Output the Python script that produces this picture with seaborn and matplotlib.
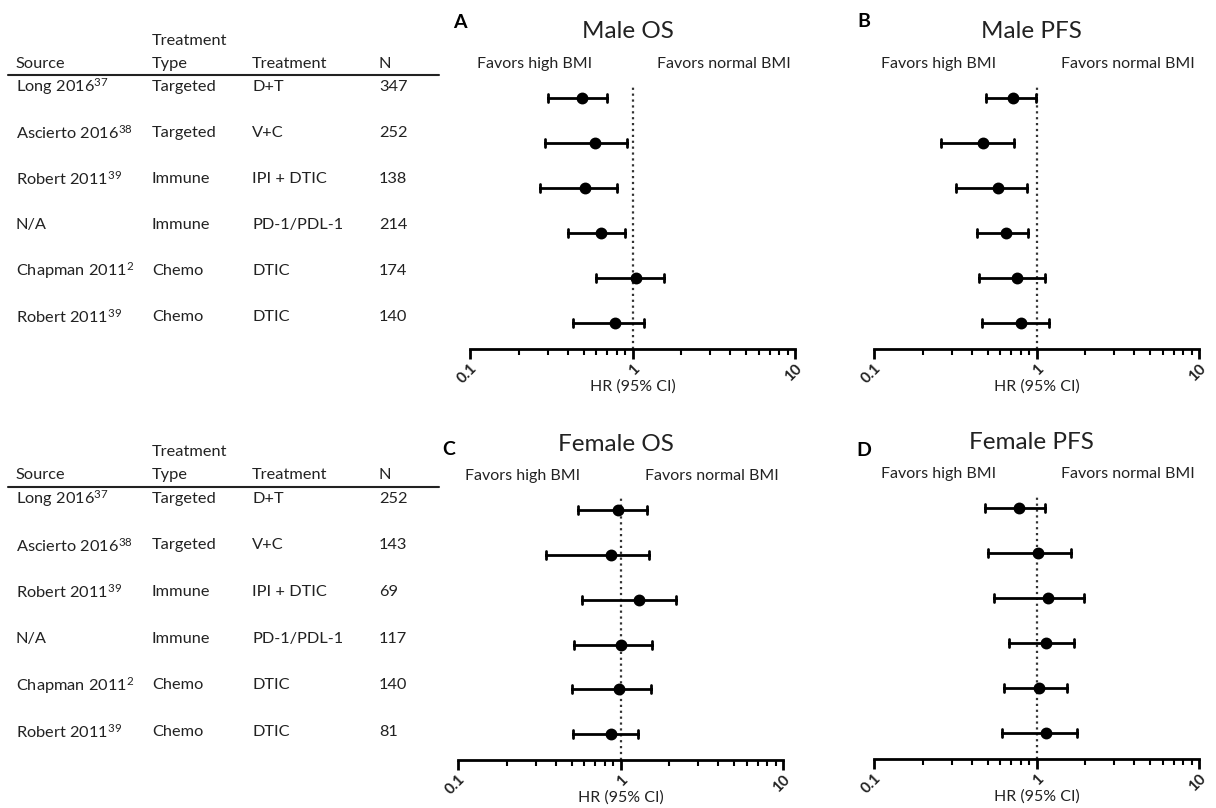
import matplotlib
matplotlib.use("Agg")
import matplotlib.pyplot as plt
import matplotlib.ticker as mticker
import numpy as np
import pandas as pd
import seaborn as sns

sns.set_theme(style="ticks")
plt.rcParams["font.family"] = ["Lato", "DejaVu Sans"]
plt.rcParams["mathtext.default"] = "regular"

# table columns
sources = ["Long 2016", "Ascierto 2016", "Robert 2011", "N/A", "Chapman 2011", "Robert 2011"]
refs = ["37", "38", "39", "", "2", "39"]
treat_types = ["Targeted", "Targeted", "Immune", "Immune", "Chemo", "Chemo"]
treatments = ["D+T", "V+C", "IPI + DTIC", "PD-1/PDL-1", "DTIC", "DTIC"]
n_male = [347, 252, 138, 214, 174, 140]
n_female = [252, 143, 69, 117, 140, 81]

# hazard ratios with 95% CI, one value per study row (top to bottom)
male_os_hr = [0.49, 0.585, 0.51, 0.64, 1.05, 0.78]
male_os_lo = [0.30, 0.29, 0.27, 0.40, 0.60, 0.43]
male_os_hi = [0.70, 0.93, 0.80, 0.90, 1.56, 1.18]

male_pfs_hr = [0.72, 0.47, 0.58, 0.65, 0.755, 0.80]
male_pfs_lo = [0.49, 0.26, 0.32, 0.43, 0.44, 0.46]
male_pfs_hi = [0.99, 0.73, 0.88, 0.89, 1.12, 1.20]

female_os_hr = [0.97, 0.87, 1.30, 1.00, 0.98, 0.87]
female_os_lo = [0.55, 0.35, 0.58, 0.52, 0.50, 0.51]
female_os_hi = [1.46, 1.50, 2.20, 1.56, 1.55, 1.29]

female_pfs_hr = [0.78, 1.02, 1.17, 1.14, 1.04, 1.15]
female_pfs_lo = [0.48, 0.50, 0.55, 0.68, 0.63, 0.61]
female_pfs_hi = [1.13, 1.64, 1.95, 1.70, 1.54, 1.78]

TXT = "#222222"


def long_frame(lo, hr, hi):
    rows = []
    for i in range(len(hr)):
        for v in (lo[i], hr[i], hi[i]):
            rows.append({"row": i, "value": v})
    return pd.DataFrame(rows)


def draw_table(fig, rect, n_values):
    ax = fig.add_axes(rect)
    ax.set_xlim(0, 1)
    ax.set_ylim(5.5, -1.24)
    ax.axis("off")
    cols = [0.036, 0.345, 0.573, 0.861]
    fs = 11.8
    ax.text(cols[1], -1.0, "Treatment", fontsize=fs, va="center", color=TXT)
    for x, h in zip(cols, ["Source", "Type", "Treatment", "N"]):
        ax.text(x, -0.5, h, fontsize=fs, va="center", color=TXT)
    ax.plot([0.018, 0.997], [-0.26, -0.26], color=TXT, lw=1.5, clip_on=False)
    for i in range(len(sources)):
        src = sources[i] + (f"$^{{{refs[i]}}}$" if refs[i] else "")
        ax.text(cols[0], i, src, fontsize=fs, va="center", color=TXT)
        ax.text(cols[1], i, treat_types[i], fontsize=fs, va="center", color=TXT)
        ax.text(cols[2], i, treatments[i], fontsize=fs, va="center", color=TXT)
        ax.text(cols[3], i, str(n_values[i]), fontsize=fs, va="center", color=TXT)


def draw_panel(fig, rect, letter, letter_y, title, lo, hr, hi):
    ax = fig.add_axes(rect)
    df = long_frame(lo, hr, hi)
    sns.pointplot(
        data=df, x="value", y="row", orient="h", order=list(range(len(hr))),
        estimator="median", errorbar=lambda v: (v.min(), v.max()),
        color="black", linestyle="none", markers="o", markersize=6.5,
        capsize=0.18, err_kws={"linewidth": 2}, log_scale=True, ax=ax,
    )
    ax.axvline(1, ls=":", color="#333", lw=1.6, zorder=0)
    ax.set_xlim(0.1, 10)
    ax.set_ylim(5.58, -0.3)
    for s in ["left", "top", "right"]:
        ax.spines[s].set_visible(False)
    ax.spines["bottom"].set_linewidth(2)
    ax.spines["bottom"].set_color("black")
    ax.set_yticks([])
    ax.set_ylabel("")
    ax.xaxis.set_major_locator(mticker.FixedLocator([0.1, 1, 10]))
    ax.xaxis.set_major_formatter(mticker.FixedFormatter(["0.1", "1", "10"]))
    ax.xaxis.set_minor_locator(mticker.LogLocator(base=10, subs=np.arange(2, 10)))
    ax.xaxis.set_minor_formatter(mticker.NullFormatter())
    ax.tick_params(axis="x", which="major", length=7, width=2, color="black",
                   labelsize=11, labelcolor=TXT, pad=2)
    ax.tick_params(axis="x", which="minor", length=4, width=1.5, color="black")
    for lab in ax.get_xticklabels():
        lab.set_rotation(45)
        lab.set_ha("right")
        lab.set_rotation_mode("anchor")
        lab.set_fontweight("bold")
    ax.set_xlabel("HR (95% CI)", fontsize=11.5, color=TXT, labelpad=-5)
    ax.text(0.485, 1.2, title, transform=ax.transAxes, ha="center", va="center",
            fontsize=17.5, color=TXT)
    ax.text(0.2, 1.08, "Favors high BMI", transform=ax.transAxes, ha="center",
            va="center", fontsize=11.5, color=TXT)
    ax.text(0.78, 1.08, "Favors normal BMI", transform=ax.transAxes, ha="center",
            va="center", fontsize=11.5, color=TXT)
    ax.text(-0.03, letter_y, letter, transform=ax.transAxes, ha="center", va="center",
            fontsize=14, fontweight="bold", color="black")
    return ax


fig = plt.figure(figsize=(12.16, 8.08), dpi=100)

draw_table(fig, [0.0, 0.5792, 440 / 1216, 0.3837], n_male)
draw_table(fig, [0.0, 0.0656, 440 / 1216, 0.3886], n_female)

draw_panel(fig, [470 / 1216, 0.568, 0.2673, 0.327], "A", 1.235, "Male OS",
           male_os_lo, male_os_hr, male_os_hi)
draw_panel(fig, [874 / 1216, 0.568, 0.2673, 0.327], "B", 1.24, "Male PFS",
           male_pfs_lo, male_pfs_hr, male_pfs_hi)
draw_panel(fig, [458 / 1216, 0.0594, 0.2673, 0.3255], "C", 1.18, "Female OS",
           female_os_lo, female_os_hr, female_os_hi)
draw_panel(fig, [874 / 1216, 0.0606, 0.2673, 0.3268], "D", 1.17, "Female PFS",
           female_pfs_lo, female_pfs_hr, female_pfs_hi)

fig.savefig("out.png", dpi=100)
